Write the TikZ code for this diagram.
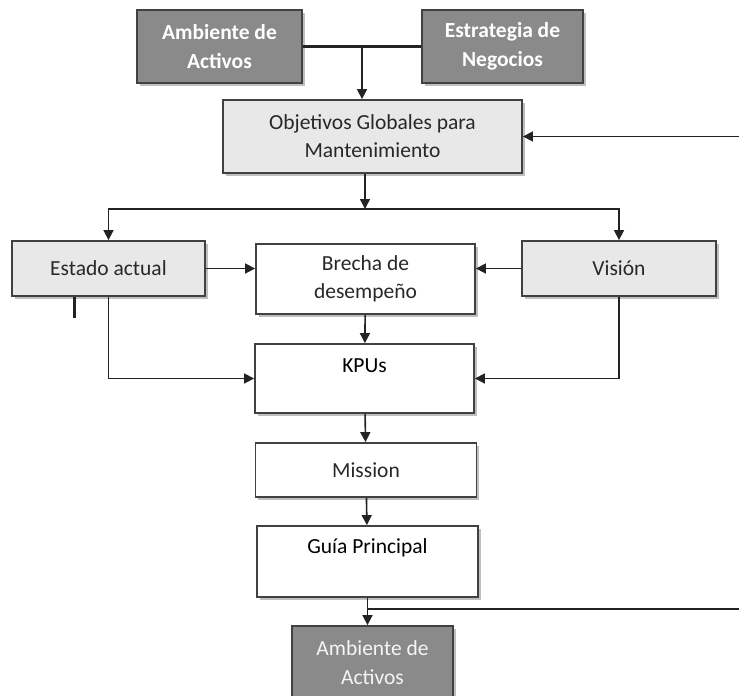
\documentclass[tikz,border=0pt]{standalone}
\usepackage{fontspec}
\setmainfont{Carlito}
\usetikzlibrary{arrows.meta,calc,shadows}

\definecolor{boxdark}{RGB}{138,138,138}
\definecolor{boxlight}{RGB}{232,232,232}
\definecolor{boxline}{RGB}{65,65,65}
\definecolor{lineclr}{RGB}{35,35,35}
\definecolor{txtclr}{RGB}{40,40,40}

\begin{document}
\begin{tikzpicture}[x=1pt,y=-1pt,
    font=\fontsize{21.5}{28}\selectfont,
    box/.style={draw=boxline, line width=1.8pt, align=center, inner sep=2pt,
        text=txtclr,
        drop shadow={shadow xshift=2.5pt, shadow yshift=-2.5pt, fill=black!50}},
    darkbox/.style={box, fill=boxdark, text=white,
        font=\fontsize{21.5}{29}\selectfont\bfseries},
    lightbox/.style={box, fill=boxlight},
    whitebox/.style={box, fill=white},
    arr/.style={-{Triangle[length=10pt,width=10pt]}, line width=1.6pt, draw=lineclr},
    link/.style={line width=1.6pt, draw=lineclr}]

    % Page size of the reference
    \useasboundingbox (0,0) rectangle (739,696);

    % Top inputs
    \node[darkbox, minimum width=165, minimum height=73] (amb) at (219.5,46.5) {Ambiente de\\Activos};
    \node[darkbox, minimum width=161, minimum height=73] (est) at (502.5,46.5) {Estrategia de\\Negocios};

    % Global objectives
    \node[lightbox, minimum width=299, minimum height=73] (obj) at (372.5,136.5) {Objetivos Globales para\\Mantenimiento};

    % Middle row
    \node[lightbox, minimum width=193, minimum height=55] (estado) at (108.5,268.5) {Estado actual};
    \node[whitebox, minimum width=219, minimum height=70] (brecha) at (365.5,279) {Brecha de\\desempe\~no};
    \node[lightbox, minimum width=194, minimum height=55] (vision) at (619,268.5) {Visión};

    % Main column
    \node[whitebox, minimum width=219, minimum height=69] (kpu) at (364.5,378.5) {};
    \node (kputxt) at ($(kpu.north)+(0,23)$) {KPUs};
    \node[whitebox, minimum width=221, minimum height=54] (mission) at (366,470) {Mission};
    \node[whitebox, minimum width=221, minimum height=71] (guia) at (367.5,561.5) {};
    \node (guiatxt) at ($(guia.north)+(0,23)$) {Guía Principal};

    % Output
    \node[darkbox, minimum width=161, minimum height=74, font=\fontsize{21.5}{29}\selectfont,
        text=white!92!gray] (amb2) at (372.5,663) {Ambiente de\\Activos};

    % Junction points
    \coordinate (split) at (365,209);
    \coordinate (fbtop) at (739,136.5);
    \coordinate (fbbot) at (739,609);
    \coordinate (tick) at (74,318);

    % Connectors at the top
    \draw[link, line width=3pt] (amb.east) -- (est.west);
    \draw[arr] ($(amb.east)!0.5!(est.west)$) coordinate (topj) -- (topj |- obj.north);
    \draw[arr] (fbtop) -- (fbtop -| obj.east);

    % Split to current state and vision
    \draw[arr] (obj.south -| split) -- (split);
    \draw[arr] (split) -| (estado.north);
    \draw[arr] (split) -| (vision.north);

    % Into the performance gap
    \draw[arr] (estado.east) -- (estado.east -| brecha.west);
    \draw[arr] (vision.west) -- (vision.west -| brecha.east);
    \draw[link, line width=3pt] (tick |- estado.south) -- (tick);

    % Into the KPUs
    \draw[arr] (brecha) -- (kpu);
    \draw[arr] (estado.south) |- (kpu.west);
    \draw[arr] (vision.south) |- (kpu.east);

    % Down the column
    \draw[arr] (kpu) -- (mission);
    \draw[arr] (mission) -- (guia);
    \draw[arr] (guia.south) -- (guia.south |- amb2.north);
    \draw[link] (fbbot) -- (fbbot -| guia.south);

\end{tikzpicture}
\end{document}
